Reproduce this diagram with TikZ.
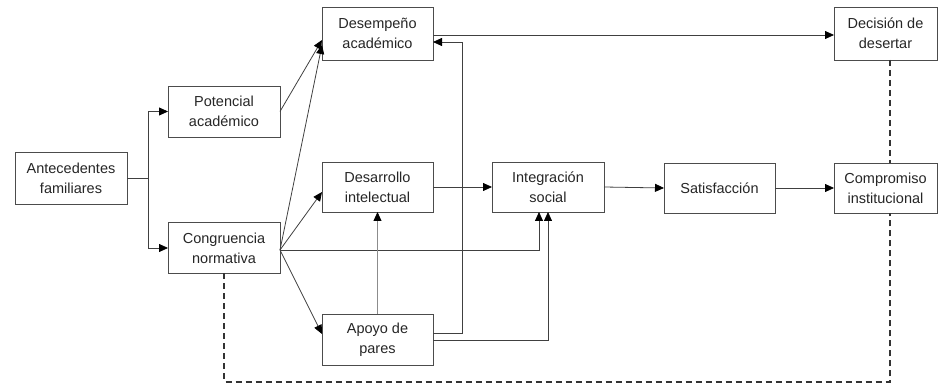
\documentclass[tikz,border=0pt]{standalone}
\usepackage{fontspec}
\setmainfont{Liberation Sans}
\usetikzlibrary{arrows.meta,calc}
\begin{document}
\begin{tikzpicture}[x=1pt,y=-1pt,
  box/.style={draw=black!70,line width=0.8pt,fill=white,inner sep=0pt,outer sep=0pt,
    align=center,font=\fontsize{14.5}{20}\selectfont,text=black!85},
  conn/.style={draw=black!75,line width=0.8pt},
  arr/.style={conn,-{Triangle[length=9pt,width=8pt,color=black]}},
  dsh/.style={draw=black!80,line width=1.3pt,dash pattern=on 6pt off 4pt}]
\useasboundingbox (0,0) rectangle (938,387);
\clip (0,0) rectangle (938,387);
% nodes
\node[box,minimum width=112pt,minimum height=52pt] (ant) at (71,178) {Antecedentes\\familiares};
\node[box,minimum width=112pt,minimum height=51pt] (pot) at (224,111.5) {Potencial\\académico};
\node[box,minimum width=112pt,minimum height=51pt] (cong) at (224,248) {Congruencia\\normativa};
\node[box,minimum width=111pt,minimum height=53pt] (des) at (377.5,33.5) {Desempeño\\académico};
\node[box,minimum width=111pt,minimum height=50pt] (desa) at (377.5,187) {Desarrollo\\intelectual};
\node[box,minimum width=112pt,minimum height=50pt] (integ) at (548,187) {Integración\\social};
\node[box,minimum width=111pt,minimum height=51pt] (apo) at (377.5,339.5) {Apoyo de\\pares};
\node[box,minimum width=111pt,minimum height=50pt] (sat) at (719.5,188) {Satisfacción};
\node[box,minimum width=103pt,minimum height=50pt] (comp) at (885.5,188) {Compromiso\\institucional};
\node[box,minimum width=103pt,minimum height=53pt] (dec) at (885.5,33.5) {Decisión de\\desertar};
% helper coordinates
\coordinate (j) at (148,178);
\coordinate (dx) at (890,0);
\coordinate (ce) at (280,250);
\coordinate (dA) at (322,40);
\coordinate (dB) at (322,45);
\coordinate (dC) at (322,192);
\coordinate (dD) at (322,334);
\coordinate (i1) at (539,0);
\coordinate (i2) at (548,0);
\coordinate (v1) at (462,0);
\coordinate (bot) at (0,382);
% connectors
\draw[conn] (ant.east) -- (j);
\draw[arr] (j) |- (pot.west);
\draw[arr] (j) |- (cong.west);
\draw[arr] (pot.east) -- (dA);
\draw[arr] (ce) -- (dB);
\draw[arr] (ce) -- (dC);
\draw[arr] (ce) -- (dD);
\draw[arr] (ce) -- (ce -| i1) -- (integ.south -| i1);
\draw[arr] (apo.east |- 0,333) -- (v1 |- 0,333) -- (v1 |- 0,42) -- (des.east |- 0,42);
\draw[arr] (apo.east |- 0,340) -- (i2 |- 0,340) -- (integ.south -| i2);
\draw[arr,draw=black!45] (apo.north) -- (desa.south);
\draw[arr] (desa.east) -- (integ.west);
\draw[arr] (integ.east) -- (sat.west);
\draw[arr] (sat.east) -- (comp.west);
\draw[arr] (des.east |- 0,35) -- (dec.west |- 0,35);
\draw[dsh] (dec.south -| dx) -- (comp.north -| dx);
\draw[dsh] (cong.south) -- (cong.south |- bot) -- (dx |- bot) -- (comp.south -| dx);
\end{tikzpicture}
\end{document}
